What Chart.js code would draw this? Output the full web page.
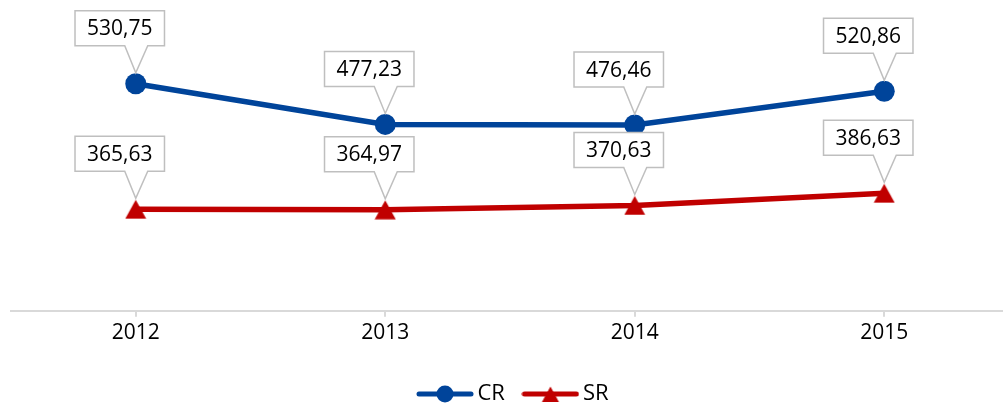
<!DOCTYPE html>
<html>
<head>
<meta charset="utf-8">
<script src="https://cdn.jsdelivr.net/npm/chart.js@4.4.0/dist/chart.umd.min.js"></script>
<style>
  html, body { margin: 0; padding: 0; background: #fff; overflow: hidden; }
</style>
</head>
<body>
<canvas id="canvas" width="1009" height="405"></canvas>
<script>
const anos = ['2012', '2013', '2014', '2015'];
const valoresCR = [530.75, 477.23, 476.46, 520.86];
const valoresSR = [365.63, 364.97, 370.63, 386.63];

const corCR = '#00449A';
const corSR = '#C00000';
const fonte = "'Open Sans', sans-serif";

// marcador triangular centrado pela caixa (como no Excel)
function triangulo(cor) {
    const c = document.createElement('canvas');
    c.width = 22; c.height = 20;
    const g = c.getContext('2d');
    g.fillStyle = cor;
    g.beginPath();
    g.moveTo(11, 0.5);
    g.lineTo(21.5, 19.5);
    g.lineTo(0.5, 19.5);
    g.closePath();
    g.fill();
    return c;
}

// amostra da legenda: linha + marcador
function amostra(cor, estilo) {
    const c = document.createElement('canvas');
    c.width = 58; c.height = 24;
    const g = c.getContext('2d');
    g.strokeStyle = cor;
    g.fillStyle = cor;
    g.lineWidth = 5;
    g.lineCap = 'round';
    g.beginPath();
    g.moveTo(3, 12);
    g.lineTo(55, 12);
    g.stroke();
    g.beginPath();
    if (estilo === 'circle') {
        g.arc(29, 12, 8.5, 0, Math.PI * 2);
    } else {
        g.moveTo(29, 4.5);
        g.lineTo(37.5, 20);
        g.lineTo(20.5, 20);
        g.closePath();
    }
    g.fill();
    return c;
}

const amostras = [amostra(corCR, 'circle'), amostra(corSR, 'triangle')];

// caixas de rótulo com ponteiro
const rotulos = {
    id: 'rotulos',
    afterLayout(chart) {
        // legenda um pouco à direita, como no original
        chart.legend.left += 6;
        chart.legend.right += 6;
    },
    afterDatasetsDraw(chart) {
        const ctx = chart.ctx;
        ctx.save();
        ctx.font = '21px ' + fonte;
        ctx.textAlign = 'center';
        ctx.textBaseline = 'middle';
        chart.data.datasets.forEach((ds, i) => {
            const meta = chart.getDatasetMeta(i);
            meta.data.forEach((pt, j) => {
                const txt = ds.data[j].toFixed(2).replace('.', ',');
                const w = ctx.measureText(txt).width + 24;
                const h = 35;
                const cx = pt.x - 16;
                const bottom = pt.y - 38;
                const top = bottom - h;
                const left = cx - w / 2;
                const right = cx + w / 2;

                ctx.beginPath();
                ctx.moveTo(left, top);
                ctx.lineTo(right, top);
                ctx.lineTo(right, bottom);
                ctx.lineTo(pt.x + 12, bottom);
                ctx.lineTo(pt.x, pt.y - 11);
                ctx.lineTo(pt.x - 11, bottom);
                ctx.lineTo(left, bottom);
                ctx.closePath();
                ctx.fillStyle = '#fff';
                ctx.fill();
                ctx.strokeStyle = '#bfbfbf';
                ctx.lineWidth = 1.5;
                ctx.stroke();

                ctx.fillStyle = '#000';
                ctx.fillText(txt, cx, top + h / 2 + 1);
            });
        });
        ctx.restore();
    }
};

new Chart(document.getElementById('canvas'), {
    type: 'line',
    data: {
        labels: anos,
        datasets: [{
            label: 'CR',
            data: valoresCR,
            borderColor: corCR,
            backgroundColor: corCR,
            borderWidth: 5.5,
            pointStyle: 'circle',
            pointRadius: 10.5,
            pointHoverRadius: 10.5,
            pointBorderWidth: 0
        }, {
            label: 'SR',
            data: valoresSR,
            borderColor: corSR,
            backgroundColor: corSR,
            borderWidth: 5.5,
            pointStyle: triangulo(corSR),
            pointRadius: 10,
            pointBorderWidth: 0
        }]
    },
    options: {
        responsive: false,
        animation: false,
        layout: {
            autoPadding: false,
            padding: { top: 0, left: 11, right: 0, bottom: -10 }
        },
        scales: {
            x: {
                offset: true,
                grid: {
                    drawOnChartArea: false,
                    tickLength: 6,
                    color: '#d9d9d9',
                    lineWidth: 2
                },
                border: { color: '#d9d9d9', width: 2 },
                ticks: {
                    color: '#000',
                    padding: 4,
                    font: { family: fonte, size: 21 }
                },
                afterFit(scale) {
                    scale.height += 9;
                }
            },
            y: {
                display: false,
                min: 232,
                max: 641
            }
        },
        plugins: {
            tooltip: { enabled: false },
            legend: {
                position: 'bottom',
                labels: {
                    usePointStyle: true,
                    pointStyleWidth: 43,
                    padding: 24,
                    color: '#000',
                    font: { family: fonte, size: 22 },
                    generateLabels: (chart) => chart.data.datasets.map((ds, i) => ({
                        text: ds.label,
                        pointStyle: amostras[i],
                        fillStyle: ds.borderColor,
                        strokeStyle: ds.borderColor,
                        fontColor: '#000',
                        lineWidth: 0,
                        hidden: false,
                        datasetIndex: i
                    }))
                }
            }
        }
    },
    plugins: [rotulos]
});
</script>
</body>
</html>
